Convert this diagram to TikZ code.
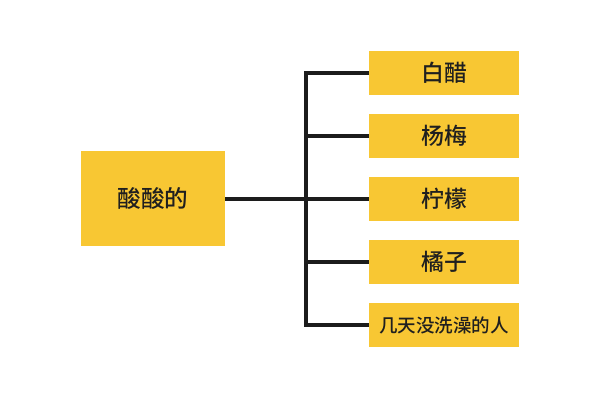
\documentclass[tikz,border=0pt]{standalone}
\usepackage{fontspec}
\newfontfamily\cjk{Noto Sans CJK SC}[UprightFont=* Medium]
\definecolor{sourfill}{HTML}{F8C733}
\definecolor{inkline}{HTML}{1C1C1C}
\usetikzlibrary{positioning}

\begin{document}
\begin{tikzpicture}[
  font=\cjk,
  root/.style={fill=sourfill,minimum width=3.6cm,minimum height=2.375cm,inner sep=0pt,font=\cjk\fontsize{16.8}{18}\selectfont,text=black!88},
  leaf/.style={fill=sourfill,minimum width=3.75cm,minimum height=1.1cm,inner sep=0pt,font=\cjk\fontsize{16.3}{18}\selectfont,text=black!88},
  branch/.style={draw=inkline,line width=2.5pt}
]
  \useasboundingbox (0,0) rectangle (15,-10);

  \node[root] (sour) at (3.825,-4.975) {酸酸的};

  \node[leaf] (vinegar) at (11.1,-1.825) {白醋};
  \node[leaf] (bayberry) at (11.1,-3.4) {杨梅};
  \node[leaf] (lemon) at (11.1,-4.975) {柠檬};
  \node[leaf] (orange) at (11.1,-6.55) {橘子};
  \node[leaf,font=\cjk\fontsize{13.2}{15}\selectfont] (unwashed) at (11.1,-8.125) {几天没洗澡的人};

  \coordinate (trunk) at (7.65,-4.975);

  \draw[branch] (sour.east) -- (trunk);
  \draw[branch,line cap=rect] (trunk |- vinegar) -- (trunk |- unwashed);
  \draw[branch] (trunk |- vinegar) -- (vinegar.west);
  \draw[branch] (trunk |- bayberry) -- (bayberry.west);
  \draw[branch] (trunk) -- (lemon.west);
  \draw[branch] (trunk |- orange) -- (orange.west);
  \draw[branch] (trunk |- unwashed) -- (unwashed.west);
\end{tikzpicture}
\end{document}
